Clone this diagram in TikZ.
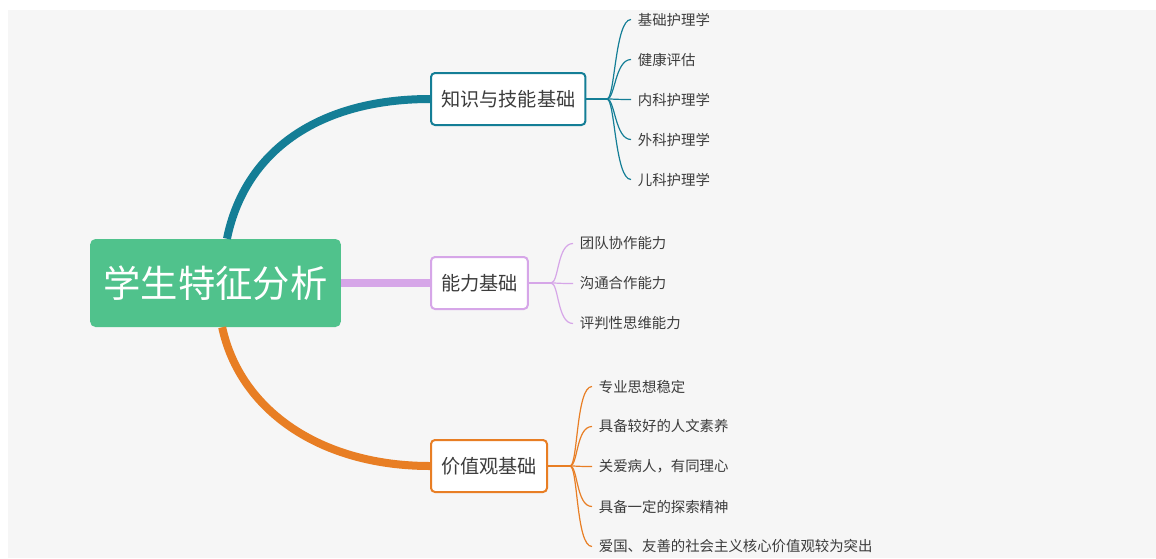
\documentclass[tikz,border=0pt]{standalone}
\usepackage{fontspec}
\setmainfont{Noto Sans CJK SC}
\definecolor{rootgreen}{RGB}{80,194,140}
\definecolor{knowteal}{RGB}{20,126,150}
\definecolor{abilpurple}{RGB}{214,166,232}
\definecolor{valorange}{RGB}{232,126,36}
\definecolor{bggray}{RGB}{246,246,246}
\definecolor{textgray}{RGB}{60,60,60}
\begin{document}
\begin{tikzpicture}[x=0.75pt,y=-0.75pt,
  root/.style={fill=rootgreen, text=white, rounded corners=4pt, font=\fontsize{28}{30}\selectfont, minimum width=188pt, minimum height=66pt},
  branch/.style={draw=#1, line width=1.5pt, fill=white, rounded corners=3pt, text=textgray, font=\fontsize{14.4}{16}\selectfont, minimum height=39pt, inner xsep=7.5pt, anchor=west},
  leaf/.style={text=textgray, font=\fontsize{10.8}{13}\selectfont, inner xsep=5pt, anchor=west},
  trunk/.style={draw=#1, line width=6pt},
  twig/.style={draw=#1, line width=0.9pt}]
\useasboundingbox (0,0) rectangle (1156,558);
\fill[bggray] (8,10) rectangle (1156,558);
% main topic and the three branches
\draw (215.5,283) node[root] (main) {学生特征分析};
\draw (430,99) node[branch=knowteal] (know) {知识与技能基础};
\draw (430,283) node[branch=abilpurple] (abil) {能力基础};
\draw (430,466) node[branch=valorange] (val) {价值观基础};
\draw[trunk=knowteal] ([xshift=8.6pt]main.north) .. controls (245,150) and (320,99) .. (know.west);
\draw[trunk=abilpurple] (main.east) -- (abil.west);
\draw[trunk=valorange] ([xshift=5pt]main.south) .. controls (240,410) and (320,466) .. (val.west);
% knowledge leaves
\draw (631,19.5) node[leaf] (k1) {基础护理学};
\draw (631,59.5) node[leaf] (k2) {健康评估};
\draw (631,99.5) node[leaf] (k3) {内科护理学};
\draw (631,139.5) node[leaf] (k4) {外科护理学};
\draw (631,179.5) node[leaf] (k5) {儿科护理学};
\coordinate (jk) at (607,99);
\draw[twig=knowteal] (know.east) -- (jk);
\foreach \n in {1,...,5}
  \draw[twig=knowteal] (jk) .. controls +(8,0) and +(-16,0) .. (k\n.west);
% ability leaves
\draw (573,243.5) node[leaf] (a1) {团队协作能力};
\draw (573,283.5) node[leaf] (a2) {沟通合作能力};
\draw (573,323.5) node[leaf] (a3) {评判性思维能力};
\coordinate (ja) at (551,283);
\draw[twig=abilpurple] (abil.east) -- (ja);
\foreach \n in {1,...,3}
  \draw[twig=abilpurple] (ja) .. controls +(8,0) and +(-16,0) .. (a\n.west);
% value leaves
\draw (592,386.5) node[leaf] (v1) {专业思想稳定};
\draw (592,426.5) node[leaf] (v2) {具备较好的人文素养};
\draw (592,466.5) node[leaf] (v3) {关爱病人，有同理心};
\draw (592,506.5) node[leaf] (v4) {具备一定的探索精神};
\draw (592,546.5) node[leaf] (v5) {爱国、友善的社会主义核心价值观较为突出};
\coordinate (jv) at (570,466);
\draw[twig=valorange] (val.east) -- (jv);
\foreach \n in {1,...,5}
  \draw[twig=valorange] (jv) .. controls +(8,0) and +(-16,0) .. (v\n.west);
\end{tikzpicture}
\end{document}
